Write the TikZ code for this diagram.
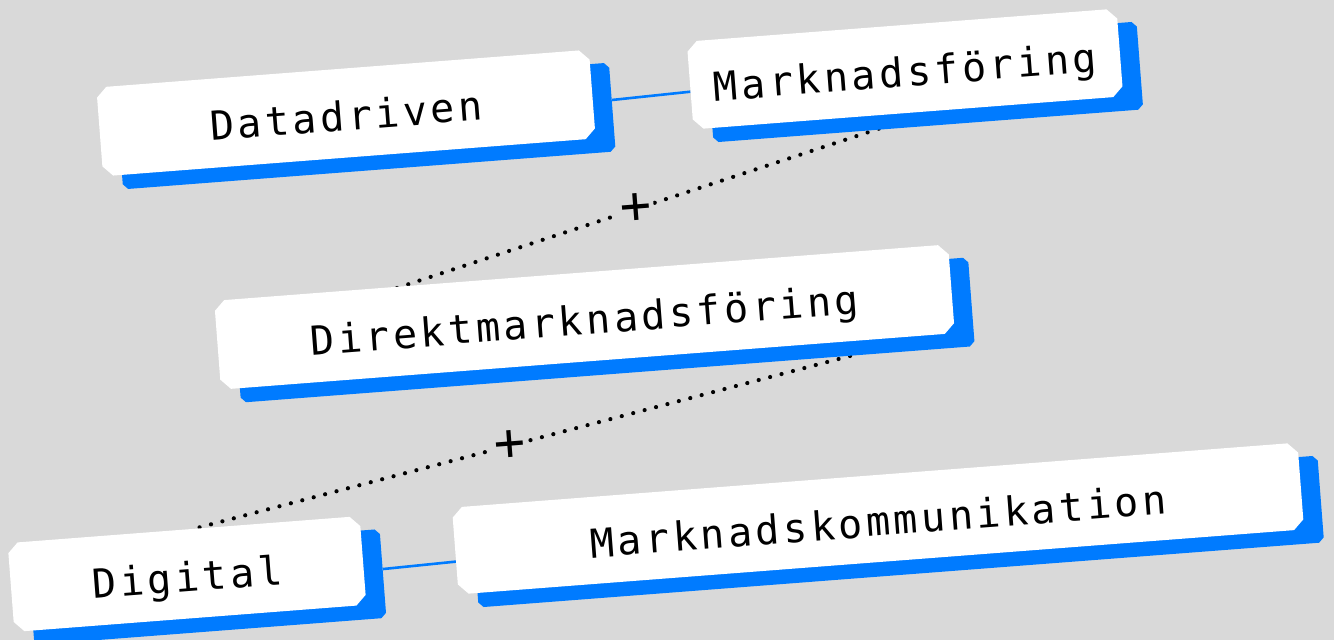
\documentclass[tikz,border=0pt]{standalone}
\usepackage{fontspec}
\newfontfamily\boxfont{DejaVu Sans Mono}[LetterSpace=9]
\newfontfamily\plusfont{DejaVu Sans Mono}
\usetikzlibrary{shapes.misc}
\definecolor{bgcol}{HTML}{D9D9D9}
\definecolor{accent}{HTML}{007BFF}
\pgfdeclarelayer{back}
\pgfdeclarelayer{links}
\pgfsetlayers{back,links,main}
\tikzset{
  card/.style={chamfered rectangle, chamfered rectangle xsep=5pt,
    chamfered rectangle ysep=5pt, rotate=4.4, inner sep=0pt,
    minimum height=89pt, fill=white, text=black,
    text height=35pt, text depth=0pt,
    font=\boxfont\fontsize{40}{42}\selectfont},
  cardshadow/.style={card, fill=accent},
  joinline/.style={draw=accent, line width=2.6pt},
  dotline/.style={draw=black, line width=4.2pt, line cap=round,
    dash pattern=on 0pt off 11.8pt},
  plussign/.style={fill=bgcol, inner sep=2pt, rotate=4.4,
    font=\plusfont\fontsize{52}{52}\selectfont}
}
\begin{document}
\begin{tikzpicture}[x=1pt,y=-1pt]
\begin{pgfonlayer}{back}
\fill[bgcol] (0,0) rectangle (1334,640);
\end{pgfonlayer}
\useasboundingbox (0,0) rectangle (1334,640);

% dotted links with plus signs
\coordinate (l1a) at (890,125);
\coordinate (l1b) at (397,288);
\coordinate (l2a) at (850,356);
\coordinate (l2b) at (197,528);
\begin{pgfonlayer}{links}
\draw[dotline] (l1a) -- (l1b) node[plussign, pos=0.515] (p1) {+};
\draw[dotline] (l2a) -- (l2b) node[plussign, pos=0.52] (p2) {+};
\end{pgfonlayer}

% shadows
\node[cardshadow, minimum width=494pt] (dds) at (366,126) {};
\node[cardshadow, minimum width=431pt, minimum height=88pt] (mfs) at (925,82) {};
\node[cardshadow, minimum width=736pt] (dms) at (604.5,330) {};
\node[cardshadow, minimum width=353pt] (dgs) at (207,587) {};
\node[cardshadow, minimum width=848pt, minimum height=87pt] (mks) at (898,531.5) {};

% cards
\node[card, minimum width=494pt] (dd) at (346,113) {Datadriven};
\node[card, minimum width=431pt, minimum height=88pt] (mf) at (905,69) {Marknadsföring};
\node[card, minimum width=736pt] (dm) at (584.5,317) {Direktmarknadsföring};
\node[card, minimum width=353pt] (dg) at (187,574) {Digital};
\node[card, minimum width=848pt, minimum height=87pt] (mk) at (878,518.5) {Marknadskommunikation};

% solid links
\begin{pgfonlayer}{links}
\draw[joinline] (dds) -- (mf);
\draw[joinline] (dgs) -- (mk);
\end{pgfonlayer}
\end{tikzpicture}
\end{document}
